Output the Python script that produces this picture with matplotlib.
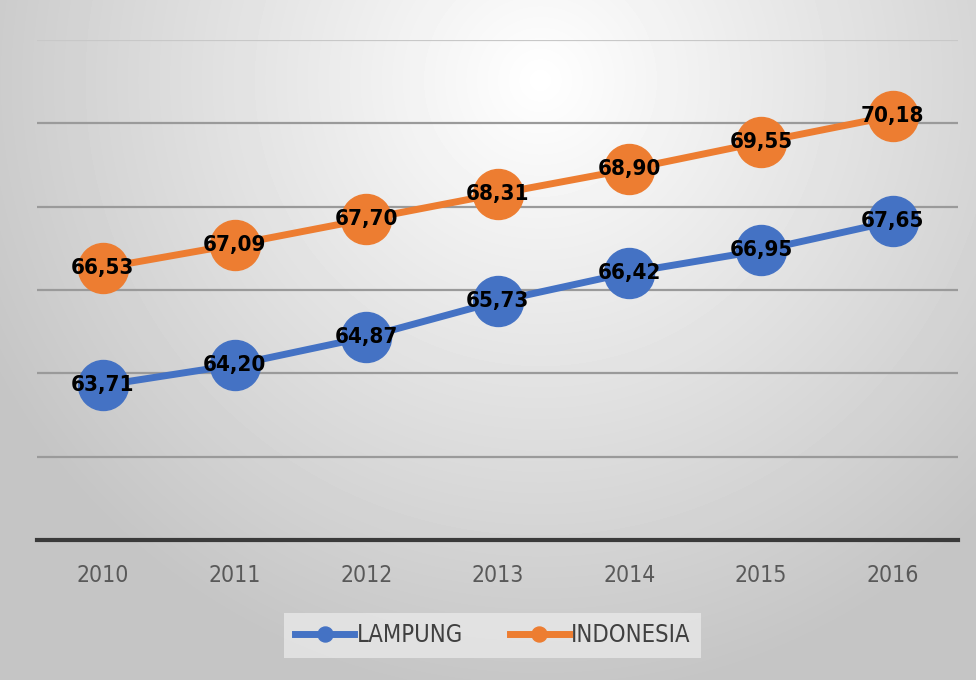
import numpy as np
import matplotlib.pyplot as plt

years = ["2010", "2011", "2012", "2013", "2014", "2015", "2016"]
lampung = [63.71, 64.20, 64.87, 65.73, 66.42, 66.95, 67.65]
indonesia = [66.53, 67.09, 67.70, 68.31, 68.90, 69.55, 70.18]

plt.rcParams['font.family'] = ['DejaVu Sans']
plt.rcParams['font.stretch'] = 'condensed'

fig = plt.figure(figsize=(9.76, 6.8), dpi=100)

# soft radial gray background
bg = fig.add_axes([0, 0, 1, 1], zorder=-10)
yy, xx = np.mgrid[0:680, 0:976]
r = np.sqrt(((xx - 540) / 650.0) ** 2 + ((yy - 80) / 650.0) ** 2)
shade = np.clip(1.0 - 0.24 * r, 0.77, 1.0)
bg.imshow(shade, cmap='gray', vmin=0, vmax=1, aspect='auto',
          extent=[0, 1, 0, 1], origin='upper')
bg.axis('off')

ax = fig.add_axes([0.038, 0.206, 0.944, 0.735])
ax.patch.set_alpha(0)
x = np.arange(len(years))

blue = '#4472C4'
orange = '#ED7D31'
ax.plot(x, lampung, color=blue, lw=5, marker='o', ms=36, label='LAMPUNG', zorder=3)
ax.plot(x, indonesia, color=orange, lw=5, marker='o', ms=36, label='INDONESIA', zorder=3)

for xi, v in zip(x, lampung):
    ax.text(xi, v, f"{v:.2f}".replace('.', ','), ha='center', va='center',
            fontsize=16, fontweight='bold', color='black', zorder=4)
for xi, v in zip(x, indonesia):
    ax.text(xi, v, f"{v:.2f}".replace('.', ','), ha='center', va='center',
            fontsize=16, fontweight='bold', color='black', zorder=4)

ax.set_xlim(-0.5, len(years) - 0.5)
ax.set_ylim(60, 72)
ax.set_yticks(np.arange(60, 73, 2))
ax.yaxis.grid(True, color='#9a9a9a', lw=1.6)
ax.get_ygridlines()[-1].set_color('#c8c8c8')
ax.set_axisbelow(True)
ax.tick_params(axis='y', left=False, labelleft=False)
ax.set_xticks(x)
ax.set_xticklabels(years, fontsize=16.5, color='#595959')
ax.tick_params(axis='x', length=0, pad=17)
for s in ['top', 'right', 'left']:
    ax.spines[s].set_visible(False)
ax.spines['bottom'].set_color('#3a3a3a')
ax.spines['bottom'].set_linewidth(3)

leg = fig.legend(loc='center', bbox_to_anchor=(0.505, 0.0655), ncol=2, frameon=True,
                 fontsize=17, markerscale=0.3, handlelength=2.5, columnspacing=2.0,
                 handletextpad=0.1, fancybox=False, borderpad=0.45, borderaxespad=0)
leg.get_frame().set_facecolor('#e8e8e8')
leg.get_frame().set_edgecolor('none')
for t in leg.get_texts():
    t.set_color('#404040')

fig.savefig('out.png', dpi=100)
